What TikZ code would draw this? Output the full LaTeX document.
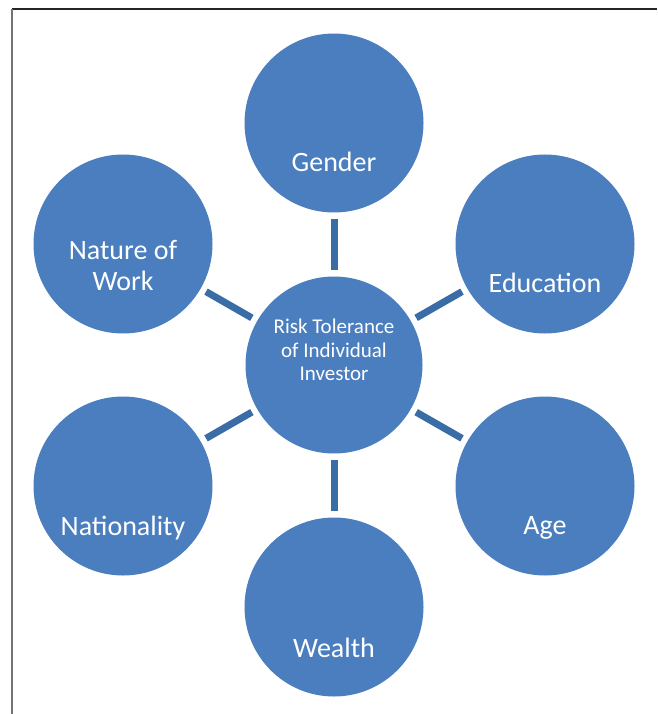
\documentclass[tikz,border=0pt]{standalone}
\usepackage{fontspec}
\setmainfont{Carlito}
\usetikzlibrary{positioning}
\definecolor{factorblue}{HTML}{4A7EBF}
\definecolor{linkblue}{HTML}{3A6CA6}
\tikzset{
    x=1pt, y=-1pt,% one unit is one pixel of the reference, y runs down
    factor/.style = {circle, fill=factorblue, minimum size=179pt, inner sep=0pt}, % the outer circles
    core/.style = {factor, minimum size=177pt}, % the middle circle
    lbl/.style = {text=white, font=\fontsize{28}{31}\selectfont, align=center, inner sep=0pt},
    link/.style = {-, draw=linkblue, line width=7pt, shorten <=6pt, shorten >=6pt}
}

\begin{document}
\begin{tikzpicture}
\useasboundingbox (0,0) rectangle (657,714);
% frame
\draw[black!85, line width=1.5pt] (12,9) -- (657,9);
\draw[black!55, line width=2pt] (12,9) -- (12,714);

\node[core] (risk) at (334,365)
  {}; 
\node[lbl, font=\fontsize{21}{23.5}\selectfont] (risktext) at ([yshift=15pt]risk.center)
  {Risk Tolerance\\of Individual\\Investor};

\node[factor, label={[lbl, yshift=-39pt]center:Gender}] (gender) at (334,123) {};
\node[factor, label={[lbl, yshift=-39pt]center:Education}] (educ) at (545,244) {};
\node[factor, label={[lbl, yshift=-42pt]center:Age}] (age) at (545,486) {};
\node[factor, label={[lbl, yshift=-41pt]center:Wealth}] (wealth) at (334,607) {};
\node[factor, label={[lbl, yshift=-42pt]center:Nationality}] (nation) at (123,486) {};
\node[factor, label={[lbl, yshift=-21pt]center:Nature of\\Work}] (work) at (123,244) {};

\draw[link] (gender) -- (risk);
\draw[link] (educ) -- (risk);
\draw[link] (age) -- (risk);
\draw[link] (wealth) -- (risk);
\draw[link] (nation) -- (risk);
\draw[link] (work) -- (risk);
\end{tikzpicture}
\end{document}
